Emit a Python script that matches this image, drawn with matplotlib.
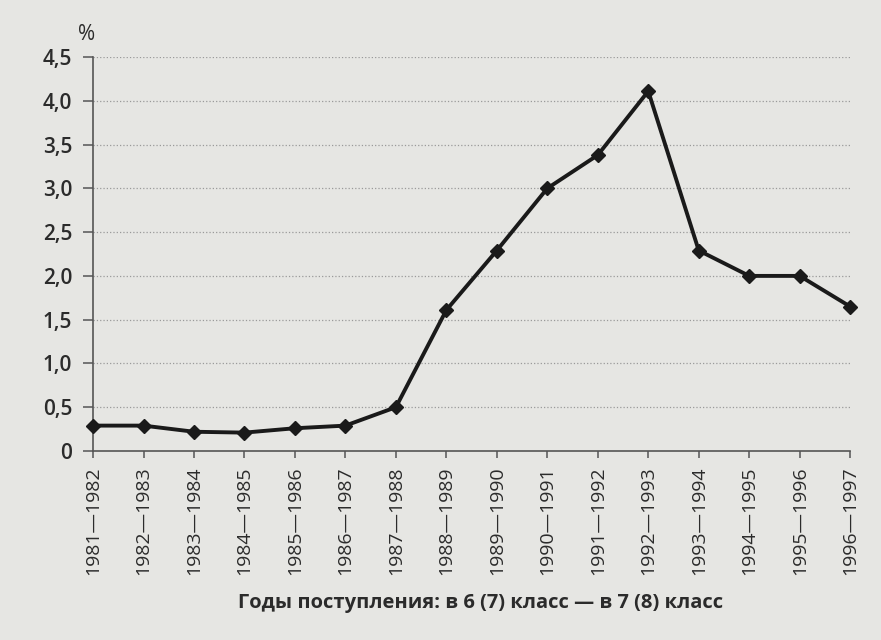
import numpy as np
import matplotlib.pyplot as plt

# Данные
years = ['1981—1982', '1982—1983', '1983—1984', '1984—1985', '1985—1986',
         '1986—1987', '1987—1988', '1988—1989', '1989—1990', '1990—1991',
         '1991—1992', '1992—1993', '1993—1994', '1994—1995', '1995—1996',
         '1996—1997']
values = [0.29, 0.29, 0.22, 0.21, 0.26, 0.29, 0.50, 1.61, 2.29, 3.00,
          3.38, 4.11, 2.29, 2.00, 2.00, 1.65]
yticks = [0, 0.5, 1.0, 1.5, 2.0, 2.5, 3.0, 3.5, 4.0, 4.5]
ytick_labels = ['0', '0,5', '1,0', '1,5', '2,0', '2,5', '3,0', '3,5', '4,0', '4,5']

bg = '#e6e6e3'
ink = '#2b2b2b'
plt.rcParams['font.family'] = ['Open Sans', 'DejaVu Sans']

fig = plt.figure(figsize=(8.81, 6.40), dpi=100, facecolor=bg)
ax = fig.add_axes([0.1056, 0.2953, 0.8594, 0.6156])
ax.set_facecolor(bg)

x = np.arange(len(years))
ax.plot(x, values, color='#1a1a1a', lw=2.8, marker='D', ms=7.5,
        mfc='#1a1a1a', mec='#1a1a1a', zorder=3, clip_on=False)

ax.set_xlim(0, len(years) - 1)
ax.set_ylim(0, 4.5)
ax.set_yticks(yticks)
ax.set_yticklabels(ytick_labels, fontsize=15, color=ink, fontweight='semibold')
ax.set_xticks(x)
ax.set_xticklabels(years, rotation=90, fontsize=14, color=ink)

# пунктирная сетка
for yv in yticks[1:]:
    ax.axhline(yv, color='#9a9a9a', lw=0.9, ls=':', zorder=1)

for s in ['top', 'right']:
    ax.spines[s].set_visible(False)
ax.spines['left'].set_color('#555555')
ax.spines['bottom'].set_color('#555555')
ax.spines['left'].set_linewidth(1.2)
ax.spines['bottom'].set_linewidth(1.2)
ax.tick_params(axis='y', direction='out', length=7, width=1.1, color='#555555', pad=8)
ax.tick_params(axis='x', direction='out', length=5, width=1.1, color='#555555', pad=6)

ax.text(-0.02, 1.03, '%', transform=ax.transAxes, fontsize=15, color=ink,
        ha='left', va='bottom')
fig.text(0.545, 0.058, 'Годы поступления: в 6 (7) класс — в 7 (8) класс',
         fontsize=14.5, fontweight='bold', color=ink, ha='center', va='center')

fig.savefig('out.png', dpi=100, facecolor=bg)
